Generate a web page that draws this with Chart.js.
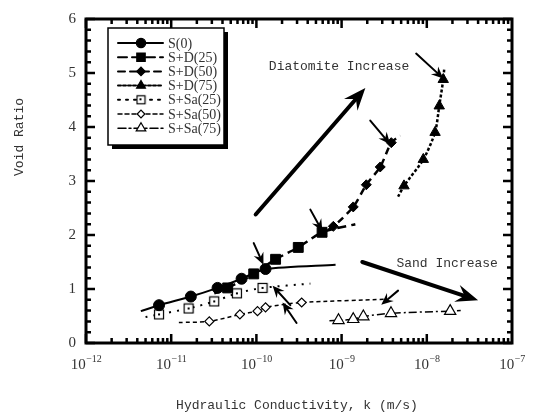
<!DOCTYPE html>
<html><head><meta charset="utf-8">
<script src="https://cdn.jsdelivr.net/npm/chart.js@4/dist/chart.umd.min.js"></script>
<style>html,body{margin:0;padding:0;background:#fff}canvas{display:block}</style>
</head><body>
<canvas id="c" width="533" height="416"></canvas>
<script>
// ---------- data (k in m/s, e = void ratio) ----------
const seriesNames = ['S(0)','S+D(25)','S+D(50)','S+D(75)','S+Sa(25)','S+Sa(50)','S+Sa(75)'];
const xTickExponents = [-12,-11,-10,-9,-8,-7];
const yTickValues = [0,1,2,3,4,5,6];

const kS0 = [7.2e-12, 1.7e-11, 3.5e-11, 6.7e-11, 1.28e-10];
const eS0 = [0.70, 0.86, 1.02, 1.19, 1.37];
const trendS0 = [4.4e-12, 0.59, 8.5e-10, 1.45];

const kSD25 = [4.6e-11, 9.3e-11, 1.68e-10, 3.1e-10, 5.9e-10];
const eSD25 = [1.02, 1.28, 1.55, 1.77, 2.05];
const trendSD25 = [3.2e-11, 0.92, 1.45e-9, 2.2];

const kSD50 = [8.0e-10, 1.37e-9, 1.95e-9, 2.84e-9, 3.83e-9];
const eSD50 = [2.16, 2.52, 2.93, 3.26, 3.71];
const trendSD50 = [5.3e-10, 1.99, 4.9e-9, 3.84];

const kSD75 = [5.4e-9, 9.1e-9, 1.25e-8, 1.40e-8, 1.56e-8];
const eSD75 = [2.91, 3.40, 3.90, 4.39, 4.88];
const trendSD75 = [4.6e-9, 2.71, 1.6e-8, 5.07];

const kSSa25 = [7.2e-12, 1.6e-11, 3.2e-11, 5.9e-11, 1.18e-10];
const eSSa25 = [0.53, 0.64, 0.77, 0.92, 1.02];
const trendSSa25 = [5.0e-12, 0.48, 4.3e-10, 1.10];

const kSSa50 = [2.8e-11, 6.4e-11, 1.03e-10, 1.28e-10, 3.4e-10];
const eSSa50 = [0.40, 0.53, 0.59, 0.66, 0.75];
const trendSSa50 = [1.23e-11, 0.38, 3.3e-9, 0.81];

const kSSa75 = [9.2e-10, 1.37e-9, 1.8e-9, 3.8e-9, 1.88e-8];
const eSSa75 = [0.42, 0.44, 0.49, 0.55, 0.59];
const trendSSa75 = [7.2e-10, 0.41, 2.5e-8, 0.60];

// annotation arrows: [k from, e from, k to, e to]
const bigArrows = [[9.8e-11, 2.38, 1.9e-9, 4.72], [1.75e-9, 1.50, 4.0e-8, 0.79]];
const smallArrows = [
  [7.5e-9, 5.36, 1.56e-8, 4.90],
  [2.17e-9, 4.12, 3.72e-9, 3.68],
  [4.3e-10, 2.47, 5.95e-10, 2.07],
  [9.3e-11, 1.85, 1.21e-10, 1.45],
  [2.5e-10, 0.70, 1.55e-10, 1.06],
  [2.96e-10, 0.37, 2.03e-10, 0.75],
  [4.6e-9, 0.97, 2.92e-9, 0.71]
];
const notes = [['Diatomite Increase', 1.4e-10, 5.12], ['Sand Increase', 4.4e-9, 1.48]];

// ---------- styles ----------
const MONO = '"Liberation Mono", "DejaVu Sans Mono", monospace';
const SERIF = '"Liberation Serif", "DejaVu Serif", serif';

function sqDot(size) {
  const c = document.createElement('canvas'); c.width = size; c.height = size;
  const g = c.getContext('2d');
  g.fillStyle = '#fff'; g.fillRect(1,1,size-2,size-2);
  g.strokeStyle = '#000'; g.lineWidth = 1.2; g.strokeRect(1.5,1.5,size-3,size-3);
  g.fillStyle = '#000'; const m = Math.floor(size/2) - 1; g.fillRect(m,m,2,2);
  return c;
}

const styles = [
  {dash: [], w: 2, ps: 'circle', r: 5.5, fill: '#000'},
  {dash: [9,5], w: 2.5, ps: 'rect', r: 7, fill: '#000'},
  {dash: [7,5], w: 2.5, ps: 'rectRot', r: 5, fill: '#000'},
  {dash: [3,2], w: 2.5, ps: 'triangle', r: 6, fill: '#000'},
  {dash: [2,6], w: 2, ps: sqDot(12), r: 6, fill: '#fff', legendPs: sqDot(11)},
  {dash: [4,3], w: 1.5, ps: 'rectRot', r: 4.5, fill: '#fff'},
  {dash: [8,3,2,3], w: 1.5, ps: 'triangle', r: 6.5, fill: '#fff'}
];

const seriesK = [kS0, kSD25, kSD50, kSD75, kSSa25, kSSa50, kSSa75];
const seriesE = [eS0, eSD25, eSD50, eSD75, eSSa25, eSSa50, eSSa75];
const trends = [trendS0, trendSD25, trendSD50, trendSD75, trendSSa25, trendSSa50, trendSSa75];

const datasets = seriesNames.map((name, i) => {
  const t = trends[i], st = styles[i];
  const pts = [{x: t[0], y: t[1]}].concat(seriesK[i].map((k, j) => ({x: k, y: seriesE[i][j]}))).concat([{x: t[2], y: t[3]}]);
  const n = pts.length;
  return {
    label: name, data: pts,
    borderColor: '#000', borderWidth: st.w, borderDash: st.dash,
    backgroundColor: st.fill, pointBackgroundColor: st.fill, pointBorderColor: '#000',
    pointBorderWidth: st.fill === '#fff' ? 1.2 : 1,
    pointStyle: st.ps,
    pointRadius: pts.map((p, j) => (j === 0 || j === n - 1) ? 0 : st.r),
    tension: 0.25, fill: false, _st: st
  };
});

// ---------- drawing helpers ----------
function drawArrow(ctx, x1, y1, x2, y2, w, L, spread) {
  const a = Math.atan2(y2 - y1, x2 - x1);
  ctx.lineWidth = w; ctx.lineCap = 'round'; ctx.setLineDash([]);
  ctx.beginPath(); ctx.moveTo(x1, y1);
  ctx.lineTo(x2 - Math.cos(a) * L * 0.6, y2 - Math.sin(a) * L * 0.6); ctx.stroke();
  ctx.beginPath();
  ctx.moveTo(x2, y2);
  ctx.lineTo(x2 - L * Math.cos(a - spread), y2 - L * Math.sin(a - spread));
  ctx.lineTo(x2 - L * 0.6 * Math.cos(a), y2 - L * 0.6 * Math.sin(a));
  ctx.lineTo(x2 - L * Math.cos(a + spread), y2 - L * Math.sin(a + spread));
  ctx.closePath(); ctx.fill();
}

const framePlugin = {
  id: 'frame',
  afterDatasetsDraw(chart) {
    const {ctx, chartArea: ca, scales: {x, y}} = chart;
    ctx.save();
    ctx.strokeStyle = '#000'; ctx.fillStyle = '#000';
    // frame
    ctx.lineWidth = 3; ctx.setLineDash([]);
    ctx.strokeRect(ca.left, ca.top, ca.right - ca.left, ca.bottom - ca.top);
    // y ticks
    ctx.lineWidth = 2.5;
    for (let v = 0; v <= 6.0001; v += 0.2) {
      const py = y.getPixelForValue(v);
      const major = Math.abs(v - Math.round(v)) < 1e-6;
      const L = major ? 9 : 5;
      ctx.beginPath();
      ctx.moveTo(ca.left, py); ctx.lineTo(ca.left + L, py);
      ctx.moveTo(ca.right, py); ctx.lineTo(ca.right - L, py);
      ctx.stroke();
    }
    // x ticks
    for (let d = -12; d < -7; d++) {
      for (let m = 1; m <= 9; m++) {
        const px = x.getPixelForValue(m * Math.pow(10, d));
        const L = m === 1 ? 9 : 5;
        ctx.beginPath();
        ctx.moveTo(px, ca.bottom); ctx.lineTo(px, ca.bottom - L);
        ctx.moveTo(px, ca.top); ctx.lineTo(px, ca.top + L);
        ctx.stroke();
      }
    }
    // x tick labels 10^n
    ctx.fillStyle = '#333';
    ctx.textBaseline = 'alphabetic';
    xTickExponents.forEach(e => {
      const px = x.getPixelForValue(Math.pow(10, e));
      ctx.font = '15px ' + SERIF;
      const wb = ctx.measureText('10').width;
      ctx.font = '10px ' + SERIF;
      const ex = '\u2212' + String(-e);
      const we = ctx.measureText(ex).width;
      const x0 = px - (wb + we) / 2;
      ctx.font = '15px ' + SERIF;
      ctx.textAlign = 'left';
      ctx.fillText('10', x0, ca.bottom + 26);
      ctx.font = '10px ' + SERIF;
      ctx.fillText(ex, x0 + wb + 0.5, ca.bottom + 19);
    });
    // axis titles
    ctx.font = '13px ' + MONO;
    ctx.textAlign = 'center'; ctx.textBaseline = 'middle';
    ctx.fillText('Hydraulic Conductivity, k (m/s)', (ca.left + ca.right) / 2 - 2, 406);
    ctx.save();
    ctx.translate(20, 137); ctx.rotate(-Math.PI / 2);
    ctx.fillText('Void Ratio', 0, 0);
    ctx.restore();
    // notes
    ctx.textAlign = 'left';
    notes.forEach(n => ctx.fillText(n[0], x.getPixelForValue(n[1]), y.getPixelForValue(n[2])));
    // arrows
    ctx.fillStyle = '#000'; ctx.strokeStyle = '#000';
    bigArrows.forEach(a => drawArrow(ctx, x.getPixelForValue(a[0]), y.getPixelForValue(a[1]), x.getPixelForValue(a[2]), y.getPixelForValue(a[3]), 4, 24, 0.38));
    smallArrows.forEach(a => drawArrow(ctx, x.getPixelForValue(a[0]), y.getPixelForValue(a[1]), x.getPixelForValue(a[2]), y.getPixelForValue(a[3]), 2, 13, 0.42));
    // legend
    const lx = 108, ly = 28, lw = 116, lh = 117;
    ctx.fillStyle = '#000';
    ctx.fillRect(lx + 4, ly + 4, lw, lh);
    ctx.fillStyle = '#fff';
    ctx.fillRect(lx, ly, lw, lh);
    ctx.strokeStyle = '#000';
    ctx.lineWidth = 1.5; ctx.strokeRect(lx, ly, lw, lh);
    chart.data.datasets.forEach((ds, i) => {
      const st = ds._st;
      const ry = ly + 15 + i * 14.2;
      ctx.strokeStyle = '#000';
      ctx.lineWidth = Math.min(st.w, 2);
      ctx.setLineDash(st.dash);
      ctx.beginPath(); ctx.moveTo(lx + 10, ry); ctx.lineTo(lx + 55, ry); ctx.stroke();
      ctx.setLineDash([]);
      ctx.fillStyle = st.fill; ctx.strokeStyle = '#000';
      ctx.lineWidth = 1.2;
      Chart.helpers.drawPoint(ctx, {
        pointStyle: st.legendPs || st.ps, radius: st.r * 0.85, borderWidth: 1.2, rotation: 0
      }, lx + 33, ry);
      ctx.fillStyle = '#333';
      ctx.font = '14px ' + SERIF;
      ctx.textAlign = 'left'; ctx.textBaseline = 'middle';
      ctx.fillText(ds.label, lx + 60, ry + 1);
    });
    ctx.restore();
  }
};

new Chart(document.getElementById('c'), {
  type: 'line',
  data: {datasets},
  options: {
    responsive: false, animation: false,
    layout: {padding: {top: 15, right: 21, left: 0, bottom: 0}},
    plugins: {legend: {display: false}, tooltip: {enabled: false}},
    scales: {
      x: {type: 'logarithmic', min: 1e-12, max: 1e-7,
          grid: {display: false, drawTicks: false}, border: {display: false},
          ticks: {display: false},
          afterFit: s => { s.height = 73; }},
      y: {type: 'linear', min: 0, max: 6,
          grid: {display: false, drawTicks: false}, border: {display: false},
          ticks: {stepSize: 1, padding: 10, color: '#333', font: {family: SERIF, size: 15},
                  callback: v => yTickValues.includes(v) ? String(v) : ''},
          afterFit: s => { s.width = 86; }}
    }
  },
  plugins: [framePlugin]
});
</script>
</body></html>
